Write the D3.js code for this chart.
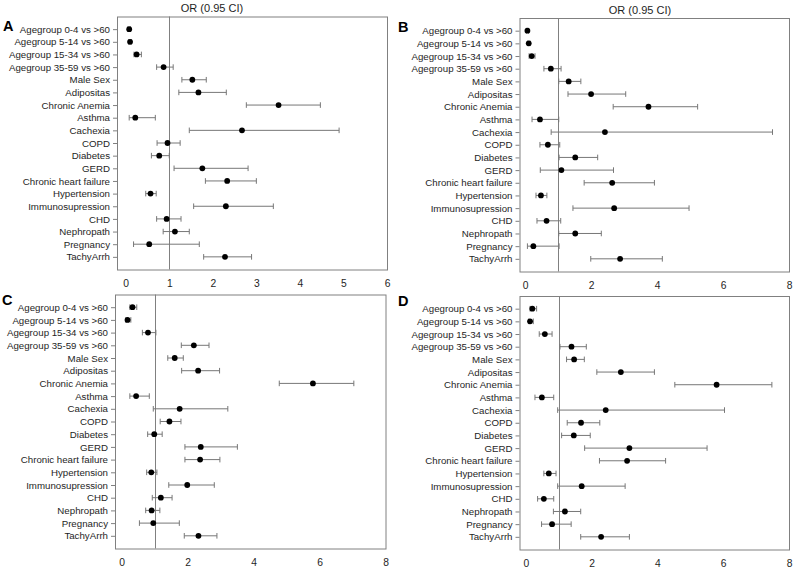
<!DOCTYPE html>
<html>
<head>
<meta charset="utf-8">
<script src="https://cdn.jsdelivr.net/npm/d3@7"></script>
<style>
  html, body { margin: 0; padding: 0; background: #fff; }
  svg { display: block; font-family: "Liberation Sans", Arial, sans-serif; }
</style>
</head>
<body>
<svg id="chart" width="794" height="570"></svg>
<script>
// ---------- data ----------
const categories = ["Agegroup 0-4 vs >60", "Agegroup 5-14 vs >60", "Agegroup 15-34 vs >60", "Agegroup 35-59 vs >60",
  "Male Sex", "Adipositas", "Chronic Anemia", "Asthma", "Cachexia", "COPD", "Diabetes", "GERD",
  "Chronic heart failure", "Hypertension", "Immunosupression", "CHD", "Nephropath", "Pregnancy", "TachyArrh"];

const orA = [0.08, 0.10, 0.25, 0.87, 1.53, 1.67, 3.51, 0.22, 2.67, 0.96, 0.77, 1.76, 2.33, 0.57, 2.30, 0.94, 1.13, 0.54, 2.28];
const loA = [0.05, 0.07, 0.19, 0.71, 1.29, 1.22, 2.77, 0.08, 1.46, 0.72, 0.59, 1.11, 1.83, 0.46, 1.56, 0.71, 0.86, 0.18, 1.79];
const hiA = [0.11, 0.13, 0.36, 1.09, 1.85, 2.31, 4.47, 0.68, 4.90, 1.25, 1.00, 2.81, 3.00, 0.70, 3.39, 1.27, 1.46, 1.69, 2.89];

const orB = [0.07, 0.11, 0.20, 0.78, 1.32, 2.00, 3.74, 0.45, 2.42, 0.69, 1.52, 1.10, 2.64, 0.48, 2.70, 0.65, 1.52, 0.25, 2.88];
const loB = [0.04, 0.08, 0.12, 0.57, 1.02, 1.30, 2.67, 0.21, 0.79, 0.45, 1.03, 0.46, 1.79, 0.33, 1.45, 0.36, 1.02, 0.07, 1.99];
const hiB = [0.10, 0.15, 0.30, 1.09, 1.69, 3.05, 5.23, 1.02, 7.50, 1.05, 2.20, 2.68, 3.92, 0.66, 4.97, 1.08, 2.31, 1.03, 4.16];

const orC = [0.33, 0.18, 0.80, 2.19, 1.61, 2.32, 5.80, 0.44, 1.76, 1.45, 0.99, 2.40, 2.38, 0.90, 1.99, 1.19, 0.91, 0.96, 2.33];
const loC = [0.25, 0.13, 0.63, 1.81, 1.40, 1.82, 4.78, 0.25, 0.96, 1.17, 0.79, 1.92, 1.92, 0.76, 1.43, 0.93, 0.73, 0.54, 1.90];
const hiC = [0.46, 0.28, 1.04, 2.65, 1.87, 2.97, 7.04, 0.84, 3.22, 1.80, 1.23, 3.51, 2.98, 1.07, 2.81, 1.53, 1.16, 1.75, 2.89];

const orD = [0.20, 0.13, 0.58, 1.39, 1.47, 2.89, 5.80, 0.49, 2.43, 1.68, 1.46, 3.15, 3.08, 0.70, 1.70, 0.55, 1.19, 0.80, 2.29];
const loD = [0.13, 0.09, 0.41, 1.04, 1.24, 2.16, 4.53, 0.28, 0.97, 1.26, 1.09, 1.79, 2.24, 0.55, 0.97, 0.36, 0.84, 0.48, 1.67];
const hiD = [0.33, 0.23, 0.80, 1.84, 1.78, 3.91, 7.48, 0.85, 6.04, 2.25, 1.96, 5.51, 4.25, 0.92, 3.02, 0.85, 1.67, 1.38, 3.15];

const ticksA = [0, 1, 2, 3, 4, 5, 6];
const ticksBCD = [0, 2, 4, 6, 8];
const referenceOR = 1;
const titleText = "OR (0.95 CI)";

// ---------- drawing ----------
const svg = d3.select("#chart");
const grey = "#808080";
const barGrey = "#777";
const textCol = "#1e1e1e";

function drawPanel(cfg) {
  const x = d3.scaleLinear().domain(cfg.xDomain).range([cfg.left, cfg.right]);
  const y = d3.scalePoint().domain(categories).range([cfg.top, cfg.bottom]).padding(1);
  const g = svg.append("g");

  // y axis (labels + outward ticks)
  const ya = g.append("g").attr("transform", `translate(${cfg.left},0)`)
    .call(d3.axisLeft(y).tickSize(4).tickPadding(3));
  ya.select(".domain").remove();
  ya.selectAll(".tick line").attr("stroke", grey);
  ya.selectAll(".tick text").attr("fill", textCol).style("font-size", "9.7px")
    .style("font-family", "'Liberation Sans', Arial, sans-serif");

  // x axis labels
  const xa = g.append("g").attr("transform", `translate(0,${cfg.bottom})`)
    .call(d3.axisBottom(x).tickValues(cfg.ticks).tickFormat(d3.format("d")).tickSize(0).tickPadding(10.5));
  xa.select(".domain").remove();
  xa.selectAll(".tick text").attr("fill", textCol).style("font-size", "10.3px")
    .style("font-family", "'Liberation Sans', Arial, sans-serif");

  // frame
  g.append("rect")
    .attr("x", cfg.left + 0.5).attr("y", cfg.top + 0.5)
    .attr("width", cfg.right - cfg.left).attr("height", cfg.bottom - cfg.top)
    .attr("fill", "none").attr("stroke", grey).attr("stroke-width", 1);

  // reference line at OR = 1
  g.append("line")
    .attr("x1", Math.round(x(referenceOR)) + 0.5).attr("x2", Math.round(x(referenceOR)) + 0.5)
    .attr("y1", cfg.top).attr("y2", cfg.bottom)
    .attr("stroke", grey).attr("stroke-width", 1);

  const rows = categories.map((c, i) => ({ c, or: cfg.or[i], lo: cfg.lo[i], hi: cfg.hi[i] }));
  const r = g.selectAll("g.row").data(rows).join("g").attr("class", "row");
  r.append("line")
    .attr("x1", d => x(d.lo)).attr("x2", d => x(d.hi))
    .attr("y1", d => y(d.c)).attr("y2", d => y(d.c))
    .attr("stroke", barGrey).attr("stroke-width", 1);
  r.append("line")
    .attr("x1", d => x(d.lo)).attr("x2", d => x(d.lo))
    .attr("y1", d => y(d.c) - 2.8).attr("y2", d => y(d.c) + 2.8)
    .attr("stroke", barGrey).attr("stroke-width", 1);
  r.append("line")
    .attr("x1", d => x(d.hi)).attr("x2", d => x(d.hi))
    .attr("y1", d => y(d.c) - 2.8).attr("y2", d => y(d.c) + 2.8)
    .attr("stroke", barGrey).attr("stroke-width", 1);
  r.append("circle")
    .attr("cx", d => x(d.or)).attr("cy", d => y(d.c)).attr("r", 2.9)
    .attr("fill", "#000");

  // panel letter
  svg.append("text").attr("x", cfg.letterX).attr("y", cfg.letterY)
    .attr("font-size", 14.5).attr("font-weight", "bold").attr("fill", "#000")
    .text(cfg.letter);

  if (cfg.titleX !== undefined) {
    svg.append("text").attr("x", cfg.titleX).attr("y", cfg.titleY)
      .attr("text-anchor", "middle").attr("font-size", 11).attr("fill", textCol)
      .text(titleText);
  }
}

drawPanel({ letter: "A", letterX: 3, letterY: 30.5, titleX: 212, titleY: 11.5,
  left: 117, right: 387, top: 16.5, bottom: 269.5, xDomain: [-0.2, 6], ticks: ticksA,
  or: orA, lo: loA, hi: hiA });
drawPanel({ letter: "B", letterX: 398, letterY: 32, titleX: 640, titleY: 13.5,
  left: 519.5, right: 789, top: 18, bottom: 271.5, xDomain: [-0.17, 8], ticks: ticksBCD,
  or: orB, lo: loB, hi: hiB });
drawPanel({ letter: "C", letterX: 2, letterY: 304.5,
  left: 115, right: 385.5, top: 294.5, bottom: 548.5, xDomain: [-0.2, 8], ticks: ticksBCD,
  or: orC, lo: loC, hi: hiC });
drawPanel({ letter: "D", letterX: 398, letterY: 305.5,
  left: 519.5, right: 789, top: 296, bottom: 549.5, xDomain: [-0.19, 8], ticks: ticksBCD,
  or: orD, lo: loD, hi: hiD });
</script>
</body>
</html>
